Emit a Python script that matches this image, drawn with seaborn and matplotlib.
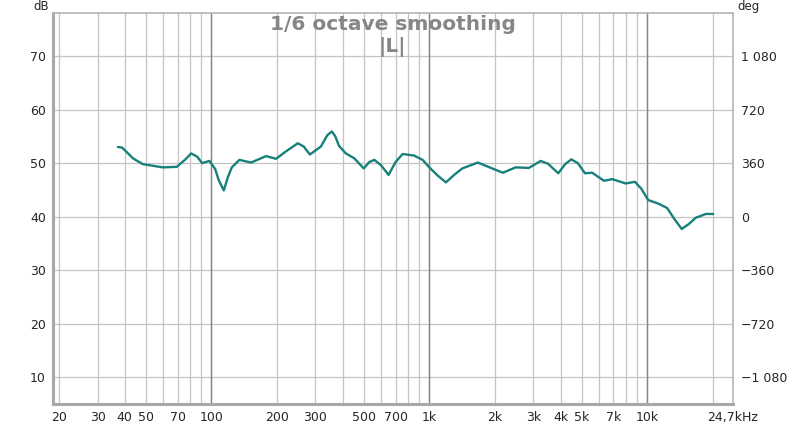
import numpy as np
import pandas as pd
import matplotlib
matplotlib.use("Agg")
import matplotlib.pyplot as plt
import seaborn as sns

# valori (frecventa in Hz, nivel in dB)
freq_hz = [37.2, 38.9, 43.6, 48.4, 59.8, 69.3, 75.5, 80.7, 86, 90.6, 97.9,
           104, 108, 113.9, 119, 124, 134.4, 152, 178, 198, 220, 249, 265,
           283, 318, 340, 357, 370, 385, 414, 452, 500, 530, 559, 600, 650,
           700, 754, 852, 931, 1000, 1090, 1191, 1300, 1416, 1669, 1943, 2176,
           2489, 2864, 3240, 3500, 3906, 4200, 4480, 4800, 5180, 5590, 6330,
           6910, 7960, 8780, 9400, 10100, 11300, 12350, 13300, 14400, 15500,
           16700, 18600, 20100]
spl_db = [53.0, 52.9, 50.9, 49.8, 49.2, 49.3, 50.6, 51.8, 51.2, 50.0, 50.4,
          48.9, 46.8, 44.9, 47.4, 49.2, 50.6, 50.1, 51.3, 50.8, 52.2, 53.7, 53.1,
          51.6, 53.1, 55.2, 55.9, 55.0, 53.2, 51.8, 50.9, 49.0, 50.2, 50.6, 49.6,
          47.8, 50.2, 51.7, 51.4, 50.6, 49.2, 47.7, 46.4, 47.8, 49.0, 50.1,
          49.0, 48.2, 49.2, 49.1, 50.4, 49.9, 48.1, 49.8, 50.7, 50.0, 48.1,
          48.2, 46.7, 47.0, 46.2, 46.5, 45.2, 43.1, 42.4, 41.6, 39.6, 37.7,
          38.6, 39.8, 40.5, 40.5]

tick_pos = [20, 30, 40, 50, 70, 100, 200, 300, 500, 700, 1000, 2000, 3000,
            4000, 5000, 7000, 10000, 24700]
tick_txt = ["20", "30", "40", "50", "70", "100", "200", "300", "500", "700",
            "1k", "2k", "3k", "4k", "5k", "7k", "10k", "24,7kHz"]
db_ticks = [10, 20, 30, 40, 50, 60, 70]
deg_ticks = [-1080, -720, -360, 0, 360, 720, 1080]
deg_txt = ["\u22121 080", "\u2212720", "\u2212360", "0", "360", "720", "1 080"]

sns.set_style("white")
plt.rcParams["font.family"] = ["DejaVu Sans"]

fig = plt.figure(figsize=(8, 4.24), dpi=100)
ax = fig.add_axes([0.066, 0.047, 0.85, 0.922])

df = pd.DataFrame({"f": freq_hz, "db": spl_db})
sns.lineplot(data=df, x="f", y="db", ax=ax, color="#17807b", lw=1.7, zorder=5)

ax.set_xscale("log")
ax.set_xlim(18.7, 24700)
ax.set_ylim(5, 78)

# grila: linii subtiri la fiecare multiplu, mai inchise la decade
grid_pos = [m * d for d in (10, 100, 1000, 10000) for m in range(1, 10)]
grid_pos = [g for g in grid_pos if 18.7 < g < 24700]
ax.xaxis.remove_overlapping_locs = False
ax.set_xticks(grid_pos, minor=True)
ax.set_xticks(tick_pos)
ax.set_xticklabels(tick_txt)
ax.xaxis.set_minor_formatter(matplotlib.ticker.NullFormatter())
ax.grid(which="minor", axis="x", color="#c4c4c4", lw=0.9)
ax.set_yticks(db_ticks)
ax.grid(which="major", axis="y", color="#c4c4c4", lw=0.9)
for d in (100, 1000, 10000):
    ax.axvline(d, color="#858585", lw=1.0, zorder=1)

ax.tick_params(axis="both", which="both", length=0, labelsize=9, pad=5)
ax.set_xlabel("")
ax.set_ylabel("")
for s in ax.spines.values():
    s.set_color("#b5b5b5")
    s.set_linewidth(1.2)
ax.spines["left"].set_linewidth(2.2)
ax.spines["bottom"].set_linewidth(2.2)
ax.spines["left"].set_color("#a8a8a8")
ax.spines["bottom"].set_color("#a8a8a8")

# axa din dreapta in grade
ax2 = ax.twinx()
ax2.set_ylim((5 - 40) * 36, (78 - 40) * 36)
ax2.set_yticks(deg_ticks)
ax2.set_yticklabels(deg_txt)
ax2.tick_params(axis="y", length=0, labelsize=9, pad=6)
for s in ax2.spines.values():
    s.set_visible(False)

ax.text(0.5, 0.995, "1/6 octave smoothing", transform=ax.transAxes,
        ha="center", va="top", fontsize=14.5, fontweight="bold", color="#868686")
ax.text(0.5, 0.94, "|L|", transform=ax.transAxes,
        ha="center", va="top", fontsize=14.5, fontweight="bold", color="#868686")

fig.text(0.052, 1.0, "dB", ha="center", va="top", fontsize=8.5)
fig.text(0.935, 1.0, "deg", ha="center", va="top", fontsize=8.5)

fig.savefig("out.png", dpi=100)
